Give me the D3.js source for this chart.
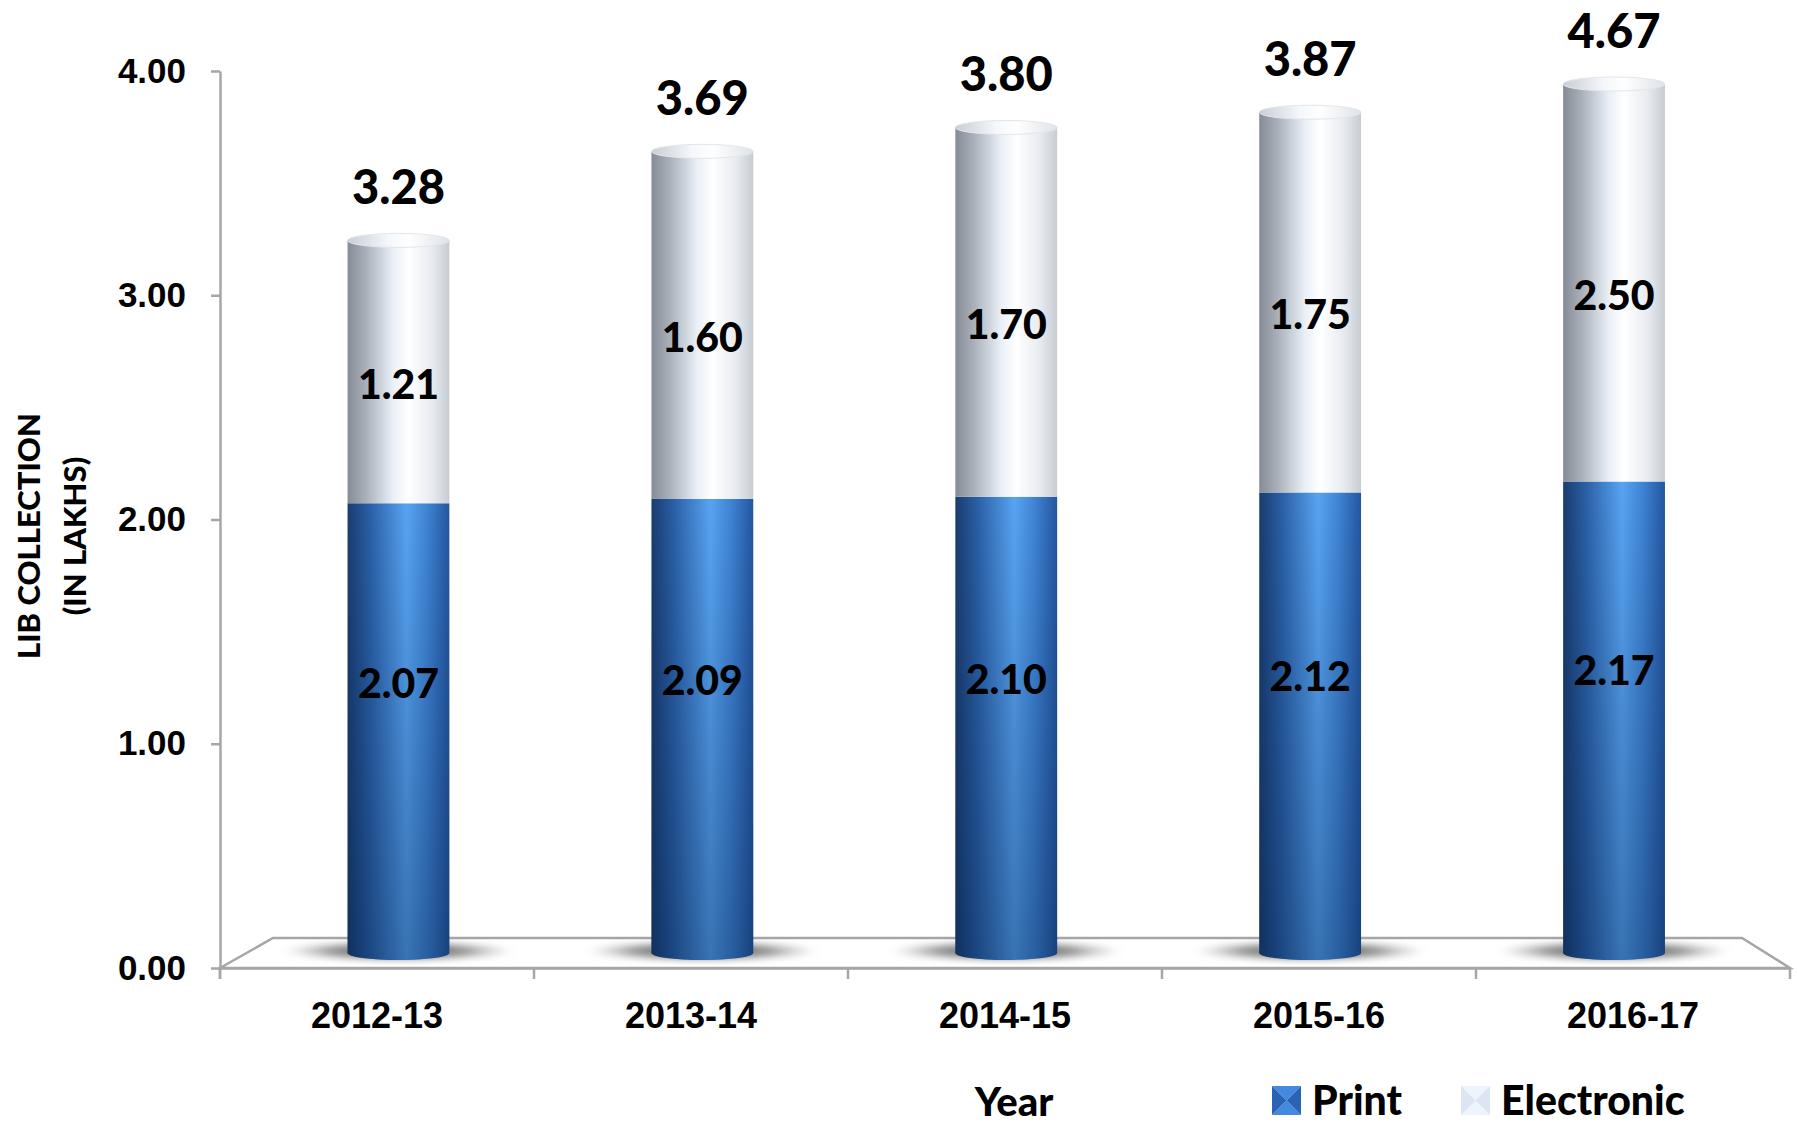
<!DOCTYPE html>
<html>
<head>
<meta charset="utf-8">
<script src="https://cdn.jsdelivr.net/npm/d3@7"></script>
<style>
body { margin: 0; background: #fff; }
</style>
</head>
<body>
<div id="chart"></div>
<script>
var years = ['2012-13', '2013-14', '2014-15', '2015-16', '2016-17'];
var printVals = [2.07, 2.09, 2.10, 2.12, 2.17];
var electronicVals = [1.21, 1.60, 1.70, 1.75, 2.50];
var yTicks = [0, 1, 2, 3, 4];
var legendLabels = ['Print', 'Electronic'];

var width = 1797, height = 1127;
var labelFont = 'Lato, "Open Sans", sans-serif';
var axisFont = '"Liberation Sans", Arial, sans-serif';
var heavy = 900;

var rows = years.map(function(y, i) {
    return {year: y, print: printVals[i], electronic: electronicVals[i], total: +(printVals[i] + electronicVals[i]).toFixed(2)};
});

var svg = d3.select('#chart')
    .append('svg')
    .attr('width', width)
    .attr('height', height);

// 3d floor: front edge and back edge
var front = {y: 968, x0: 220, x1: 1790};
var back = {y: 938, x0: 273, x1: 1742};

var yAxisScale = d3.scaleLinear().domain([0, 4]).range([front.y, 71]);
// bars stand half way back, so their scale is a bit smaller
var yBar = d3.scaleLinear().domain([0, 4]).range([953, 84]).clamp(true);

var xFront = d3.scaleBand().domain(years).range([front.x0, front.x1]);
var xMid = d3.scaleBand().domain(years).range([(front.x0 + back.x0) / 2, (front.x1 + back.x1) / 2]);
var barW = xMid.step() * 0.335, rx = barW / 2, ry = 7;
var cx = function(d) { return xMid(d.year) + xMid.bandwidth() / 2; };

var defs = svg.append('defs');
function hGrad(id, stops) {
    var g = defs.append('linearGradient').attr('id', id)
        .attr('x1', '0%').attr('x2', '100%').attr('y1', '0%').attr('y2', '0%');
    stops.forEach(function(s) {
        g.append('stop').attr('offset', s[0]).attr('stop-color', s[1]).attr('stop-opacity', s[2] == null ? 1 : s[2]);
    });
}
hGrad('printGrad', [['0%', '#1a3c6e'], ['22%', '#2a5fa6'], ['58%', '#58a4f2'], ['78%', '#3f84d4'], ['100%', '#2456a0']]);
hGrad('elecGrad', [['0%', '#858c95'], ['18%', '#a9b0b9'], ['45%', '#eaf0f7'], ['60%', '#ffffff'], ['84%', '#e6eaef'], ['100%', '#c7ccd3']]);
hGrad('capGrad', [['0%', '#c9ced5'], ['40%', '#f4f7fb'], ['60%', '#ffffff'], ['100%', '#dfe3e8']]);

var shade = defs.append('linearGradient').attr('id', 'printShade')
    .attr('x1', '0%').attr('x2', '0%').attr('y1', '0%').attr('y2', '100%');
shade.append('stop').attr('offset', '0%').attr('stop-color', '#001a40').attr('stop-opacity', 0);
shade.append('stop').attr('offset', '100%').attr('stop-color', '#001a40').attr('stop-opacity', 0.35);

var sh = defs.append('radialGradient').attr('id', 'shadowGrad');
sh.append('stop').attr('offset', '0%').attr('stop-color', '#2a2a2a').attr('stop-opacity', 0.95);
sh.append('stop').attr('offset', '60%').attr('stop-color', '#555').attr('stop-opacity', 0.6);
sh.append('stop').attr('offset', '100%').attr('stop-color', '#999').attr('stop-opacity', 0);

defs.append('filter').attr('id', 'blur').append('feGaussianBlur').attr('stdDeviation', 3);

// floor
svg.append('path')
    .attr('d', 'M' + front.x0 + ',' + front.y + 'L' + back.x0 + ',' + back.y + 'L' + back.x1 + ',' + back.y + 'L' + front.x1 + ',' + front.y + 'Z')
    .attr('fill', '#fff')
    .attr('stroke', '#a6a6a6')
    .attr('stroke-width', 2.5);

// shadows
svg.selectAll('.shadow')
    .data(rows)
    .enter().append('ellipse')
    .attr('class', 'shadow')
    .attr('cx', cx)
    .attr('cy', yBar(0) - 2)
    .attr('rx', barW * 1.15)
    .attr('ry', 11)
    .attr('fill', 'url(#shadowGrad)')
    .attr('filter', 'url(#blur)');

function cylBody(x, top, bottom) {
    return 'M' + (x - rx) + ',' + top + 'L' + (x - rx) + ',' + bottom +
        'A' + rx + ',' + ry + ' 0 0 0 ' + (x + rx) + ',' + bottom +
        'L' + (x + rx) + ',' + top + 'Z';
}

var bars = svg.selectAll('.bar')
    .data(rows)
    .enter().append('g')
    .attr('class', 'bar');

bars.append('path')
    .attr('d', function(d) { return cylBody(cx(d), yBar(d.print), yBar(0)); })
    .attr('fill', 'url(#printGrad)');
bars.append('path')
    .attr('d', function(d) { return cylBody(cx(d), yBar(d.print), yBar(0)); })
    .attr('fill', 'url(#printShade)');
bars.append('rect')
    .attr('x', function(d) { return cx(d) - rx; })
    .attr('y', function(d) { return yBar(d.total); })
    .attr('width', barW)
    .attr('height', function(d) { return yBar(d.print) - yBar(d.total); })
    .attr('fill', 'url(#elecGrad)');
bars.append('ellipse')
    .attr('cx', cx)
    .attr('cy', function(d) { return yBar(d.total); })
    .attr('rx', rx)
    .attr('ry', ry)
    .attr('fill', 'url(#capGrad)')
    .attr('stroke', '#e3e6ea')
    .attr('stroke-width', 1);

// y axis
var yAxis = svg.append('g')
    .attr('transform', 'translate(' + front.x0 + ',0)')
    .call(d3.axisLeft(yAxisScale).tickValues(yTicks).tickFormat(d3.format('.2f'))
        .tickSize(9).tickSizeOuter(0).tickPadding(25));
yAxis.select('.domain').attr('stroke', '#a6a6a6').attr('stroke-width', 2.5);
yAxis.selectAll('.tick line').attr('stroke', '#a6a6a6').attr('stroke-width', 2.5);
yAxis.selectAll('.tick text')
    .attr('font-family', axisFont)
    .attr('font-weight', 'bold')
    .attr('font-size', 35)
    .attr('fill', '#000');
svg.append('line')
    .attr('x1', front.x0).attr('x2', front.x0)
    .attr('y1', front.y).attr('y2', front.y + 11)
    .attr('stroke', '#a6a6a6').attr('stroke-width', 2.5);

// x axis
var xAxis = svg.append('g')
    .attr('transform', 'translate(0,' + front.y + ')')
    .call(d3.axisBottom(xFront).tickSize(0));
xAxis.select('.domain').attr('stroke', '#a6a6a6').attr('stroke-width', 2.5);
xAxis.selectAll('.tick text')
    .attr('y', 60)
    .attr('dy', null)
    .attr('font-family', axisFont)
    .attr('font-weight', 'bold')
    .attr('font-size', 36)
    .attr('fill', '#000');
xAxis.selectAll('.bound')
    .data(d3.range(years.length + 1))
    .enter().append('line')
    .attr('class', 'bound')
    .attr('x1', function(i) { return front.x0 + i * xFront.step(); })
    .attr('x2', function(i) { return front.x0 + i * xFront.step(); })
    .attr('y1', 0).attr('y2', 11)
    .attr('stroke', '#a6a6a6').attr('stroke-width', 2.5);

// value labels
function label(cls, size, yFn, txt) {
    svg.selectAll('.' + cls)
        .data(rows)
        .enter().append('text')
        .attr('class', cls)
        .attr('x', cx)
        .attr('y', yFn)
        .attr('dy', '0.36em')
        .attr('text-anchor', 'middle')
        .attr('font-family', labelFont)
        .attr('font-weight', heavy)
        .attr('font-size', size)
        .attr('fill', '#000')
        .text(txt);
}
label('lblPrint', 41, function(d) { return yBar(d.print * 0.6); }, function(d) { return d.print.toFixed(2); });
label('lblElec', 41, function(d) { return (yBar(d.print) + yBar(d.total)) / 2 + 12; }, function(d) { return d.electronic.toFixed(2); });
label('lblTotal', 47, function(d) { return yBar(d.total) - 53; }, function(d) { return d.total.toFixed(2); });

// axis titles
var yTitle = svg.append('g')
    .attr('font-family', labelFont)
    .attr('font-weight', heavy)
    .attr('font-size', 31)
    .attr('text-anchor', 'middle');
yTitle.append('text')
    .attr('transform', 'translate(29,536) rotate(-90)')
    .attr('dy', '0.36em')
    .text('LIB COLLECTION');
yTitle.append('text')
    .attr('transform', 'translate(75,536) rotate(-90)')
    .attr('dy', '0.36em')
    .text('(IN LAKHS)');

svg.append('text')
    .attr('x', 1014)
    .attr('y', 1116)
    .attr('text-anchor', 'middle')
    .attr('font-family', labelFont)
    .attr('font-weight', heavy)
    .attr('font-size', 40)
    .text('Year');

// legend
var legendX = [1272, 1461];
var legendCols = [['#4389df', '#2a63b3'], ['#eef4fb', '#dce6f2']];
var s = 29;
var leg = svg.selectAll('.legend')
    .data(legendLabels)
    .enter().append('g')
    .attr('class', 'legend')
    .attr('transform', function(d, i) { return 'translate(' + legendX[i] + ',1086)'; });
leg.each(function(d, i) {
    var g = d3.select(this), c = s / 2;
    g.append('path').attr('d', 'M0,0L' + s + ',0L' + c + ',' + c + 'Z').attr('fill', legendCols[i][0]);
    g.append('path').attr('d', 'M0,' + s + 'L' + s + ',' + s + 'L' + c + ',' + c + 'Z').attr('fill', legendCols[i][0]);
    g.append('path').attr('d', 'M0,0L0,' + s + 'L' + c + ',' + c + 'Z').attr('fill', legendCols[i][1]);
    g.append('path').attr('d', 'M' + s + ',0L' + s + ',' + s + 'L' + c + ',' + c + 'Z').attr('fill', legendCols[i][1]);
});
leg.append('text')
    .attr('x', 40)
    .attr('y', 29)
    .attr('font-family', labelFont)
    .attr('font-weight', heavy)
    .attr('font-size', 41)
    .text(function(d) { return d; });
</script>
</body>
</html>
